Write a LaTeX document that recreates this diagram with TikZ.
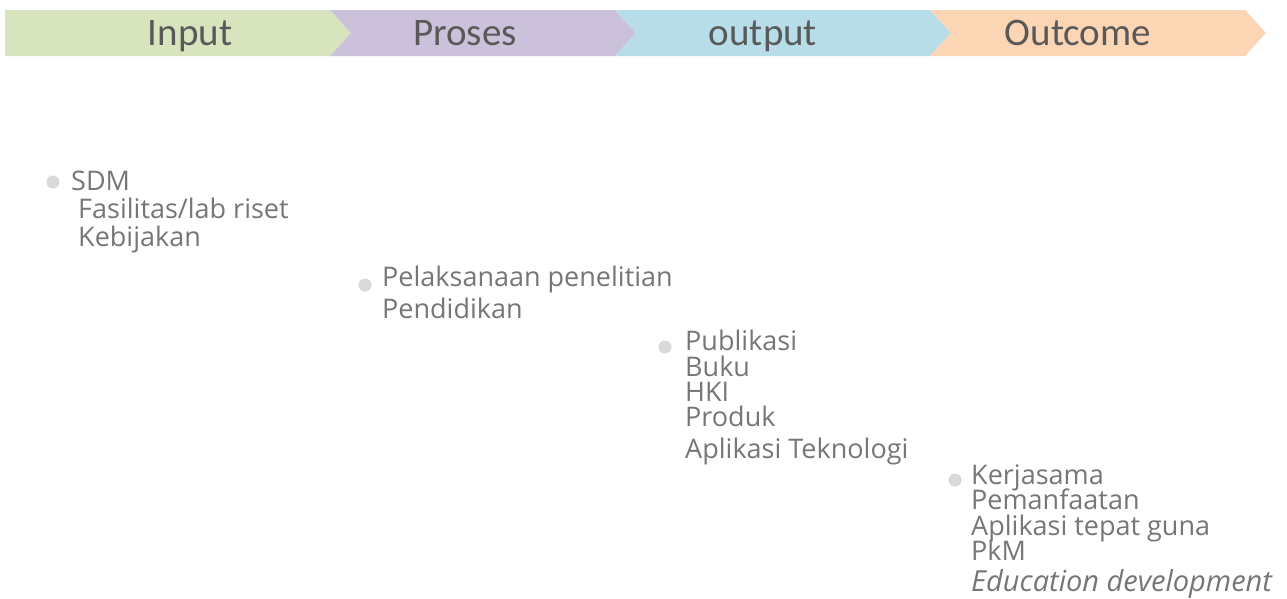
\documentclass[tikz,border=0pt]{standalone}
\usepackage{fontspec}
\setmainfont{Open Sans}
\newfontfamily\hdrfont{Carlito}
\definecolor{cinput}{HTML}{D7E4BD}
\definecolor{cproses}{HTML}{CCC1DA}
\definecolor{coutput}{HTML}{B7DEE8}
\definecolor{coutcome}{HTML}{FCD5B5}
\definecolor{hdrtext}{HTML}{595959}
\definecolor{bodytext}{HTML}{767676}
\definecolor{bulletc}{HTML}{D9D9D9}
\begin{document}
\begin{tikzpicture}[x=1pt,y=-1pt,
  hdr/.style={anchor=base, font=\hdrfont\fontsize{39}{42}\selectfont, text=hdrtext, inner sep=0pt},
  item/.style={anchor=base west, font=\fontsize{27}{30}\selectfont, text=bodytext, inner sep=0pt},
  dot/.style={circle, fill=bulletc, minimum size=13pt, inner sep=0pt}]
\useasboundingbox (0,0) rectangle (1287,598);
% chevron band
\fill[cinput] (5,10) -- (330,10) -- (351,33) -- (330,56) -- (5,56) -- cycle;
\fill[cproses] (330,10) -- (615,10) -- (636,33) -- (615,56) -- (330,56) -- (351,33) -- cycle;
\fill[coutput] (615,10) -- (930,10) -- (951,33) -- (930,56) -- (615,56) -- (636,33) -- cycle;
\fill[coutcome] (930,10) -- (1245,10) -- (1266,33) -- (1245,56) -- (930,56) -- (951,33) -- cycle;
\node[hdr] (hinput) at (190,45) {Input};
\node[hdr] (hproses) at (465,45) {Proses};
\node[hdr] (houtput) at (763,45) {output};
\node[hdr] (houtcome) at (1078,45) {Outcome};
% block 1
\node[dot] (d1) at (53,182) {};
\node[item] (a1) at (71,190) {SDM};
\node[item] (a2) at (78,218) {Fasilitas/lab riset};
\node[item] (a3) at (78,246) {Kebijakan};
% block 2
\node[dot] (d2) at (365,285) {};
\node[item] (b1) at (382,286) {Pelaksanaan penelitian};
\node[item] (b2) at (382,318) {Pendidikan};
% block 3
\node[dot] (d3) at (665,347) {};
\node[item] (c1) at (685,350) {Publikasi};
\node[item] (c2) at (685,376) {Buku};
\node[item] (c3) at (685,401) {HKI};
\node[item] (c4) at (685,426) {Produk};
\node[item] (c5) at (685,458) {Aplikasi Teknologi};
% block 4
\node[dot] (d4) at (955,480) {};
\node[item] (e1) at (971,484) {Kerjasama};
\node[item] (e2) at (971,509) {Pemanfaatan};
\node[item] (e3) at (971,535) {Aplikasi tepat guna};
\node[item] (e4) at (971,560) {PkM};
\node[item, font=\itshape\fontsize{29}{30}\selectfont] (e5) at (971,591) {Education development};
\end{tikzpicture}
\end{document}
